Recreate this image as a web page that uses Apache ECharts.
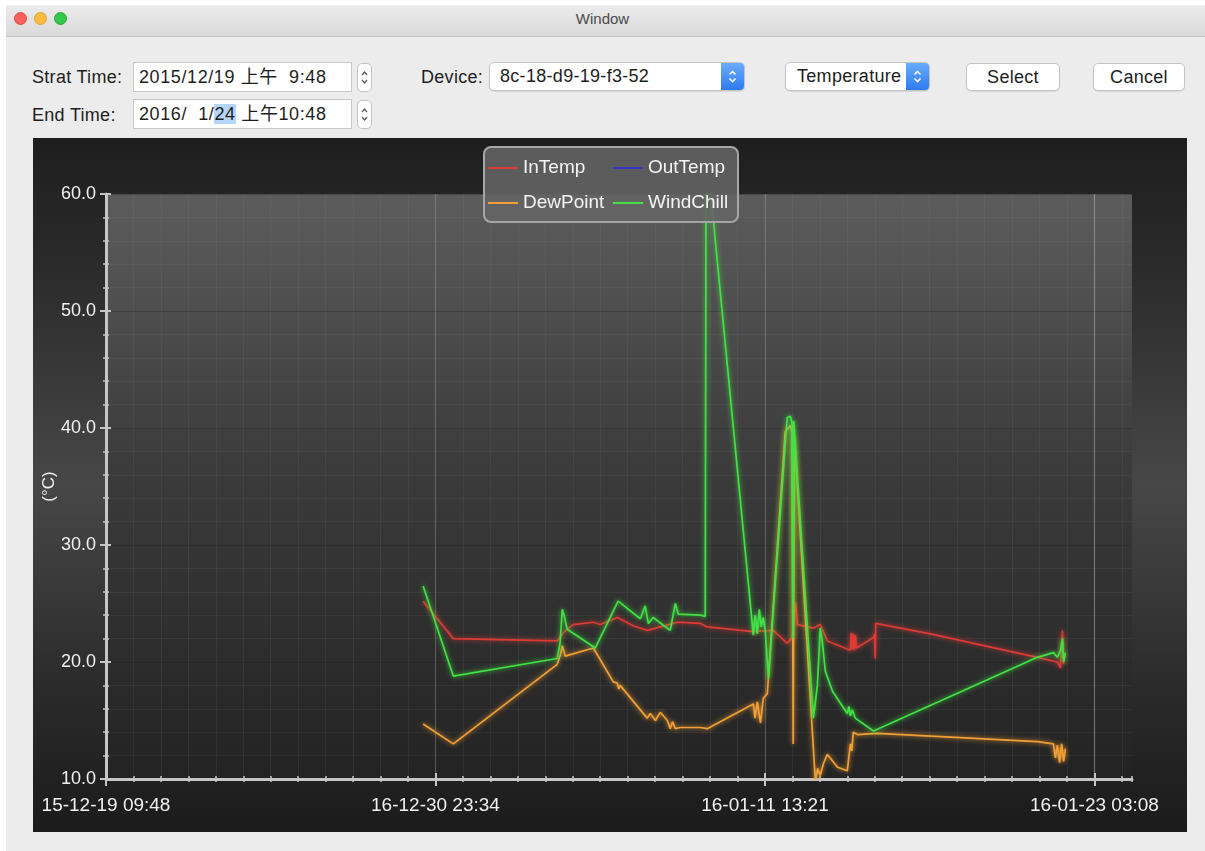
<!DOCTYPE html>
<html><head><meta charset="utf-8">
<script src="https://cdn.jsdelivr.net/npm/echarts@6/dist/echarts.min.js"></script>
<style>
html,body{margin:0;padding:0;width:1205px;height:851px;overflow:hidden;background:#ffffff;font-family:"Liberation Sans","Noto Sans CJK SC",sans-serif;}
#win{position:absolute;left:6px;top:5px;width:1199px;height:846px;background:#ececec;}
#titlebar{position:absolute;left:6px;top:5px;width:1199px;height:31px;background:linear-gradient(#ececec,#d9d9d9);border-bottom:1px solid #c2c2c2;}
.dot{position:absolute;top:12px;width:13px;height:13px;border-radius:50%;box-sizing:border-box;}
.title{position:absolute;left:0;width:1205px;top:10px;text-align:center;font-size:15px;color:#4b4b4b;}
.lbl{position:absolute;font-size:18px;color:#1e1e1e;height:22px;line-height:22px;white-space:pre;letter-spacing:0.3px;}
.box{position:absolute;background:#fff;border:1px solid #c8c8c8;box-sizing:border-box;font-size:18px;color:#1e1e1e;white-space:pre;letter-spacing:0.6px;}
.spin{position:absolute;width:15px;height:29px;background:#fff;border:1px solid #c4c4c4;border-radius:5px;box-sizing:border-box;}
.combo{position:absolute;height:29px;background:#fff;border:1px solid #c4c4c4;border-radius:5px;box-sizing:border-box;font-size:18px;color:#1e1e1e;line-height:27px;white-space:pre;box-shadow:0 1px 1px rgba(0,0,0,0.08);overflow:hidden;letter-spacing:0.3px;}
.blue{position:absolute;right:0;top:0;width:23px;height:27px;background:linear-gradient(#6aabfb,#2d7bf0);}
.btn{position:absolute;height:28px;background:#fff;border:1px solid #c4c4c4;border-radius:5px;box-sizing:border-box;font-size:18px;color:#1e1e1e;line-height:26px;text-align:center;box-shadow:0 1px 1px rgba(0,0,0,0.08);letter-spacing:0.3px;}
.hl{background:#b6d5fb;}
#chart{position:absolute;left:33px;top:138px;width:1154px;height:694px;}
</style>
</head>
<body>
<div id="win"></div>
<div id="titlebar"></div>
<div class="dot" style="left:14px;background:#fc605c;border:1px solid #e04a45;"></div>
<div class="dot" style="left:34px;background:#fdbc40;border:1px solid #dea236;"></div>
<div class="dot" style="left:54px;background:#34c84a;border:1px solid #27aa35;"></div>
<div class="title">Window</div>

<div class="lbl" style="left:32px;top:66px;">Strat Time:</div>
<div class="box" style="left:133px;top:62px;width:219px;height:30px;line-height:28px;padding-left:5px;">2015/12/19 上午  9:48</div>
<div class="spin" style="left:357px;top:63px;"><svg width="13" height="27" viewBox="0 0 13 27"><path d="M4 11 L6.5 8 L9 11" stroke="#555" stroke-width="1.2" fill="none"/><path d="M4 16 L6.5 19 L9 16" stroke="#555" stroke-width="1.2" fill="none"/></svg></div>

<div class="lbl" style="left:32px;top:104px;">End Time:</div>
<div class="box" style="left:133px;top:99px;width:219px;height:30px;line-height:28px;padding-left:5px;">2016/  1/<span class="hl">24</span> 上午10:48</div>
<div class="spin" style="left:357px;top:100px;"><svg width="13" height="27" viewBox="0 0 13 27"><path d="M4 11 L6.5 8 L9 11" stroke="#555" stroke-width="1.2" fill="none"/><path d="M4 16 L6.5 19 L9 16" stroke="#555" stroke-width="1.2" fill="none"/></svg></div>

<div class="lbl" style="left:421px;top:66px;">Device:</div>
<div class="combo" style="left:489px;top:62px;width:256px;padding-left:10px;">8c-18-d9-19-f3-52<div class="blue"><svg width="23" height="27" viewBox="0 0 23 27"><path d="M8.5 11.5 L11.5 8.5 L14.5 11.5" stroke="#fff" stroke-width="1.6" fill="none"/><path d="M8.5 15.5 L11.5 18.5 L14.5 15.5" stroke="#fff" stroke-width="1.6" fill="none"/></svg></div></div>

<div class="combo" style="left:785px;top:62px;width:145px;padding-left:11px;">Temperature<div class="blue"><svg width="23" height="27" viewBox="0 0 23 27"><path d="M8.5 11.5 L11.5 8.5 L14.5 11.5" stroke="#fff" stroke-width="1.6" fill="none"/><path d="M8.5 15.5 L11.5 18.5 L14.5 15.5" stroke="#fff" stroke-width="1.6" fill="none"/></svg></div></div>

<div class="btn" style="left:966px;top:63px;width:94px;">Select</div>
<div class="btn" style="left:1093px;top:63px;width:92px;">Cancel</div>

<div id="chart"></div>
<script>
// ---- data (x = days since 15-12-19 09:48, y = °C) ----
var xLabels = ['15-12-19 09:48', '16-12-30 23:34', '16-01-11 13:21', '16-01-23 03:08'];
var seriesNames = ['InTemp', 'OutTemp', 'DewPoint', 'WindChill'];
var xMaxDays = 36.0417;          // 15-12-19 09:48 .. 16-01-24 10:48
var majorDays = 11.57407;        // spacing of the labelled ticks
var minorPerMajor = 12;
var yMin = 10, yMax = 60, yStep = 10, yMinorSplit = 5;

var inTemp = [
 [11.14,25.2],[12.20,22.0],[15.85,21.8],[16.10,22.6],[16.41,23.2],[17.12,23.4],[17.36,23.2],[17.96,23.8],
 [18.52,23.1],[19.01,22.7],[19.47,23.0],[20.07,23.4],[20.88,23.3],[21.12,23.0],[22.74,22.6],[23.44,22.7],
 [23.93,21.6],[24.10,22.1],[24.22,25.1],[24.29,23.2],[24.85,22.9],[25.09,23.2],[25.34,21.8],[26.15,21.0],
 [26.18,22.5],[26.22,21.1],[26.25,22.4],[26.29,21.0],[26.32,22.3],[26.36,21.2],[26.96,22.1],[27.00,22.4],
 [27.02,20.3],[27.04,23.3],[28.96,22.4],[32.72,20.4],[33.42,20.0],[33.53,19.5],[33.60,22.7],[33.64,19.8]
];
var outTemp = [];
var dewPoint = [
 [11.14,14.7],[12.20,13.0],[15.85,19.8],[15.96,20.6],[16.03,21.4],[16.13,20.5],[17.12,21.2],[17.82,18.3],
 [17.96,18.2],[18.01,17.7],[18.06,18.0],[19.01,15.2],[19.12,15.6],[19.30,15.0],[19.47,15.7],[19.72,15.0],
 [19.82,14.3],[19.90,14.9],[20.00,14.3],[20.17,14.4],[20.88,14.4],[21.12,14.3],[22.74,16.4],[22.80,15.2],
 [22.88,16.6],[22.99,14.8],[23.09,16.9],[23.23,17.3],[23.86,39.7],[24.04,40.2],[24.10,39.6],[24.14,13.0],
 [24.18,39.2],[24.92,9.8],[25.00,10.9],[25.09,10.3],[25.20,11.3],[25.34,12.1],[25.70,11.0],[26.04,10.7],
 [26.15,13.0],[26.20,12.4],[26.25,14.0],[26.40,13.8],[27.10,13.9],[32.72,13.2],[33.28,13.0],[33.35,11.8],
 [33.42,12.9],[33.50,11.4],[33.57,13.0],[33.64,11.5],[33.70,12.6]
];
var windChill = [
 [11.14,26.5],[12.20,18.8],[15.85,20.3],[15.95,21.6],[16.03,24.5],[16.10,23.9],[16.20,22.8],[17.19,21.2],
 [17.99,25.2],[18.77,23.7],[18.94,24.8],[19.05,23.3],[19.22,23.8],[19.82,22.7],[20.00,25.0],[20.10,24.1],
 [20.88,24.0],[21.05,23.9],[21.08,63.0],[21.33,57.9],[22.74,22.3],[22.80,24.0],[22.88,22.4],[22.95,24.5],
 [23.02,23.0],[23.09,23.8],[23.16,22.6],[23.27,18.6],[23.93,40.9],[24.04,41.0],[24.10,40.4],[24.13,22.0],
 [24.16,40.6],[24.22,40.5],[24.85,15.2],[24.99,18.0],[25.09,22.9],[25.16,21.8],[25.27,19.2],[25.52,17.5],
 [26.04,15.6],[26.10,16.2],[26.15,15.4],[26.22,15.9],[26.32,15.2],[26.96,14.1],[32.72,20.4],[33.28,20.8],
 [33.42,20.4],[33.53,21.0],[33.60,22.0],[33.64,20.0],[33.70,20.8]
];
var seriesData = [inTemp, outTemp, dewPoint, windChill];
var seriesColors = ['#dc3b36', '#3434c8', '#f2a035', '#42e245'];

// ---- layout ----
var gridLeft = 73, gridTop = 56, gridWidth = 1026, gridHeight = 585;
var minorDays = majorDays / minorPerMajor;
var lastMajor = majorDays * (xLabels.length - 1);
var majorGridWidth = gridWidth * lastMajor / xMaxDays;

var axisCol = '#c6c6c6';
var font = 'Liberation Sans';
var minorGrid = 'rgba(150,150,150,0.11)';

var chart = echarts.init(document.getElementById('chart'), null, {renderer: 'canvas'});

var series = seriesNames.map(function (n, i) {
  return {
    name: n, type: 'line', xAxisIndex: 0, yAxisIndex: 0,
    data: seriesData[i], showSymbol: false, symbol: 'none', clip: true,
    lineStyle: {color: seriesColors[i], width: 1.7, shadowBlur: 5, shadowColor: seriesColors[i]},
    itemStyle: {color: seriesColors[i]}, z: 3 + i
  };
});

var legendText = {color: '#f4f4f4', fontSize: 19, lineHeight: 20, fontFamily: font};

var option = {
  animation: false,
  backgroundColor: {
    type: 'linear', x: 0, y: 0, x2: 0, y2: 1,
    colorStops: [
      {offset: 0, color: '#1e1e1e'}, {offset: 0.2, color: '#2c2c2c'},
      {offset: 0.5, color: '#474747'}, {offset: 0.8, color: '#2a2a2a'}, {offset: 1, color: '#1b1b1b'}
    ]
  },
  textStyle: {fontFamily: font},
  grid: [
    {left: gridLeft, top: gridTop, width: gridWidth, height: gridHeight, show: true, borderWidth: 0,
     outerBoundsMode: 'none',
     backgroundColor: {type: 'linear', x: 0, y: 0, x2: 0, y2: 1,
       colorStops: [{offset: 0, color: '#5c5c5c'}, {offset: 0.45, color: '#3c3c3c'}, {offset: 1, color: '#232323'}]}},
    {left: gridLeft, top: gridTop, width: majorGridWidth, height: gridHeight, show: false, outerBoundsMode: 'none'}
  ],
  xAxis: [
    { // data axis, minor ticks + labels
      type: 'value', gridIndex: 0, position: 'bottom', min: 0, max: xMaxDays, interval: minorDays,
      axisLine: {show: true, lineStyle: {color: axisCol, width: 3}},
      axisTick: {show: true, length: 3, lineStyle: {color: axisCol, width: 1.5}},
      splitLine: {show: true, showMinLine: false, showMaxLine: false, lineStyle: {color: minorGrid, width: 1}},
      axisLabel: {
        show: true, color: '#f0f0f0', fontSize: 19, margin: 17, fontFamily: font,
        formatter: function (v, i) {
          return (i % minorPerMajor === 0 && i / minorPerMajor < xLabels.length) ? xLabels[i / minorPerMajor] : '';
        }
      }
    },
    { // overlay inner minor ticks
      type: 'value', gridIndex: 0, position: 'bottom', min: 0, max: xMaxDays, interval: minorDays,
      axisLine: {show: false}, axisLabel: {show: false}, splitLine: {show: false},
      axisTick: {show: true, inside: true, length: 3, lineStyle: {color: axisCol, width: 1.5}}
    },
    { // major ticks + major grid lines
      type: 'value', gridIndex: 1, position: 'bottom', min: 0, max: lastMajor, interval: majorDays,
      axisLine: {show: false}, axisLabel: {show: false},
      axisTick: {show: true, length: 7, lineStyle: {color: axisCol, width: 2}},
      splitLine: {show: true, showMinLine: false, lineStyle: {color: 'rgba(190,190,190,0.26)', width: 1.2}}
    },
    {
      type: 'value', gridIndex: 1, position: 'bottom', min: 0, max: lastMajor, interval: majorDays,
      axisLine: {show: false}, axisLabel: {show: false}, splitLine: {show: false},
      axisTick: {show: true, inside: true, length: 6, lineStyle: {color: axisCol, width: 2}}
    }
  ],
  yAxis: [
    {
      type: 'value', gridIndex: 0, position: 'left', min: yMin, max: yMax, interval: yStep,
      name: '(°C)', nameLocation: 'middle', nameGap: 48, nameRotate: 90, nameMoveOverlap: false,
      nameTextStyle: {color: '#ececec', fontSize: 17, fontFamily: font},
      axisLine: {show: true, lineStyle: {color: axisCol, width: 3}},
      axisTick: {show: true, length: 6, lineStyle: {color: axisCol, width: 2}},
      minorTick: {show: true, splitNumber: yMinorSplit, length: 3, lineStyle: {color: axisCol, width: 1.5}},
      splitLine: {show: true, showMinLine: false, lineStyle: {color: 'rgba(25,25,25,0.3)', width: 1.2}},
      minorSplitLine: {show: true, lineStyle: {color: minorGrid, width: 1}},
      axisLabel: {color: '#f0f0f0', fontSize: 18, margin: 10, fontFamily: font,
        formatter: function (v) { return v.toFixed(1); }}
    },
    {
      type: 'value', gridIndex: 0, position: 'left', min: yMin, max: yMax, interval: yStep,
      axisLine: {show: false}, axisLabel: {show: false}, splitLine: {show: false},
      axisTick: {show: true, inside: true, length: 5, lineStyle: {color: axisCol, width: 2}},
      minorTick: {show: true, splitNumber: yMinorSplit, length: 3, lineStyle: {color: axisCol, width: 1.5}}
    },
    {type: 'value', gridIndex: 1, min: yMin, max: yMax, show: false}
  ],
  graphic: [{
    type: 'rect', left: 450, top: 8, z: 10,
    shape: {width: 254, height: 75, r: 7},
    style: {fill: 'rgba(100,100,100,0.88)', stroke: '#a6a6a6', lineWidth: 2}
  }],
  legend: [
    {data: [seriesNames[0], seriesNames[2]], orient: 'vertical', left: 450, top: 15, z: 20,
     icon: 'rect', itemWidth: 30, itemHeight: 2, itemGap: 15, selectedMode: false, textStyle: legendText},
    {data: [seriesNames[1], seriesNames[3]], orient: 'vertical', left: 575, top: 15, z: 20,
     icon: 'rect', itemWidth: 30, itemHeight: 2, itemGap: 15, selectedMode: false, textStyle: legendText}
  ],
  series: series
};
chart.setOption(option);
</script>
</body></html>
